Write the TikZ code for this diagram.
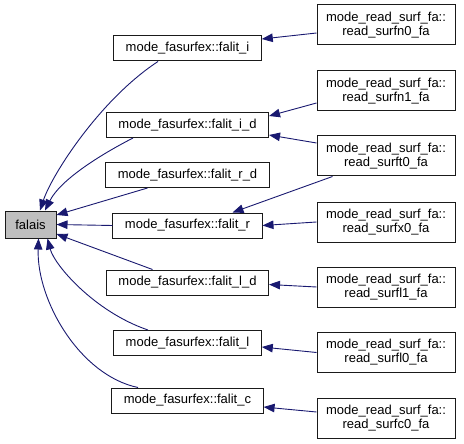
\documentclass[tikz,border=0pt]{standalone}
\usepackage{fontspec}
\setmainfont{Liberation Sans}
\usetikzlibrary{arrows.meta}
\definecolor{callblue}{HTML}{191970}
\definecolor{rootgray}{HTML}{BFBFBF}
\definecolor{boxline}{HTML}{1A1A1A}

\begin{document}
\begin{tikzpicture}[x=1pt, y=-1pt,
  box/.style={draw=boxline, fill=white, line width=1pt,
    font=\fontsize{13}{14}\selectfont, inner xsep=12pt, inner ysep=0pt,
    minimum height=25pt},
  rootbox/.style={box, fill=rootgray, minimum width=51pt, minimum height=27pt, inner xsep=2pt},
  srcbox/.style={box, align=center, minimum width=138pt, minimum height=40pt, inner xsep=2pt},
  call/.style={draw=callblue, line width=0.9pt, -{Triangle[length=11pt, width=8.5pt]}}]
  \useasboundingbox (0,0) rectangle (464,444);

  % Root
  \node[rootbox] (fal) at (30.5,224.5) {falais};

  % Callers
  \node[box] (fi)  at (187.5,48.5)  {mode\_fasurfex::falit\_i};
  \node[box] (fid) at (187.5,125)   {mode\_fasurfex::falit\_i\_d};
  \node[box] (frd) at (187.5,175)   {mode\_fasurfex::falit\_r\_d};
  \node[box] (fr)  at (187.5,225.5) {mode\_fasurfex::falit\_r};
  \node[box] (fld) at (187.5,282.5) {mode\_fasurfex::falit\_l\_d};
  \node[box] (fl)  at (187.5,343)   {mode\_fasurfex::falit\_l};
  \node[box] (fc)  at (187.5,400.5) {mode\_fasurfex::falit\_c};

  % Readers
  \node[srcbox] (rn0) at (386,25)    {mode\_read\_surf\_fa::\\read\_surfn0\_fa};
  \node[srcbox] (rn1) at (386,91)    {mode\_read\_surf\_fa::\\read\_surfn1\_fa};
  \node[srcbox] (rt0) at (386,156)   {mode\_read\_surf\_fa::\\read\_surft0\_fa};
  \node[srcbox] (rx0) at (386,222)   {mode\_read\_surf\_fa::\\read\_surfx0\_fa};
  \node[srcbox] (rl1) at (386,287)   {mode\_read\_surf\_fa::\\read\_surfl1\_fa};
  \node[srcbox] (rl0) at (386,352.5) {mode\_read\_surf\_fa::\\read\_surfl0\_fa};
  \node[srcbox] (rc0) at (386,418)   {mode\_read\_surf\_fa::\\read\_surfc0\_fa};

  % Callers -> root
  \draw[call] ([xshift=-29.5pt]fi.south) .. controls +(-58,38) and +(12,-36) .. ([xshift=9.5pt]fal.north);
  \draw[call] ([xshift=-54.5pt]fid.south) .. controls +(-35,18) and +(15,-30) .. ([xshift=14.5pt]fal.north);
  \draw[call] ([xshift=-40pt]frd.south) -- ([yshift=9.5pt]fal.east);
  \draw[call] (fr.west) -- (fal.east);
  \draw[call] ([xshift=-35pt]fld.north) -- ([yshift=-9.5pt]fal.east);
  \draw[call] ([xshift=-39.5pt]fl.north) .. controls +(-53,-18) and +(7,27) .. ([xshift=17pt]fal.south);
  \draw[call] ([xshift=-49.5pt]fc.north) .. controls +(-58,-12) and +(-2,62) .. ([xshift=8pt]fal.south);

  % Readers -> callers
  \draw[call] ([yshift=-8pt]rn0.west) -- ([yshift=9.5pt]fi.east);
  \draw[call] ([yshift=-12pt]rn1.west) -- ([yshift=9pt]fid.east);
  \draw[call] ([yshift=13pt]rt0.west) -- ([yshift=-10pt]fid.east);
  \draw[call] ([xshift=16pt]rt0.south west) -- ([xshift=45pt]fr.north);
  \draw[call] (rx0.west) -- (fr.east);
  \draw[call] (rl1.west) -- ([yshift=-2pt]fld.east);
  \draw[call] (rl0.west) -- ([yshift=-4pt]fl.east);
  \draw[call] ([yshift=6pt]rc0.west) -- ([yshift=-6.5pt]fc.east);
\end{tikzpicture}
\end{document}
